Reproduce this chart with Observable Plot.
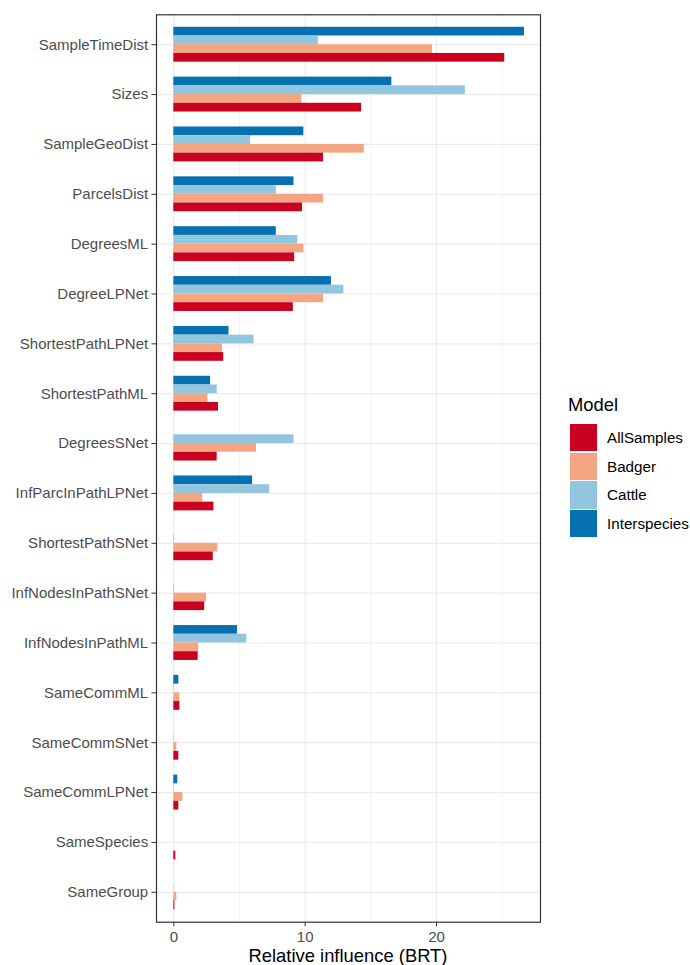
<!DOCTYPE html>
<html>
<head>
<meta charset="utf-8">
<script src="https://cdn.jsdelivr.net/npm/d3@7"></script>
<script src="https://cdn.jsdelivr.net/npm/@observablehq/plot@0.6"></script>
<style>
  html, body { margin: 0; padding: 0; background: #fff; }
  #chart { position: relative; width: 690px; height: 965px; font-family: "Liberation Sans", Arial, Helvetica, sans-serif; }
  #chart svg { position: absolute; left: 0; top: 0; color: #333; }
  #chart svg text { fill: #4D4D4D; }
  .xtitle { position: absolute; top: 945px; left: 156px; width: 384px; text-align: center; font-size: 18.4px; color: #000; line-height: 22px; }
  .legend { position: absolute; left: 568px; top: 394px; color: #000; }
  .legend .title { font-size: 18.4px; line-height: 22px; margin-bottom: 7px; }
  .legend .row { display: flex; align-items: center; height: 28.8px; }
  .legend .key { width: 27px; height: 27.3px; margin-left: 2px; }
  .legend .lab { font-size: 15.2px; margin-left: 10px; }
</style>
</head>
<body>
<div id="chart"></div>
<script>
// Predictors, top to bottom
const features = [
  "SampleTimeDist", "Sizes", "SampleGeoDist", "ParcelsDist", "DegreesML",
  "DegreeLPNet", "ShortestPathLPNet", "ShortestPathML", "DegreesSNet",
  "InfParcInPathLPNet", "ShortestPathSNet", "InfNodesInPathSNet",
  "InfNodesInPathML", "SameCommML", "SameCommSNet", "SameCommLPNet",
  "SameSpecies", "SameGroup"
];

// Relative influence per model (BRT)
const allSamples   = [25.2, 14.3, 11.4, 9.8, 9.2, 9.1, 3.8, 3.4, 3.3, 3.05, 3.0, 2.35, 1.85, 0.46, 0.38, 0.38, 0.15, 0.08];
const badger       = [19.7, 9.75, 14.5, 11.4, 9.9, 11.4, 3.7, 2.6, 6.3, 2.2, 3.35, 2.5, 1.9, 0.46, 0.23, 0.69, 0, 0.23];
const cattle       = [11.0, 22.2, 5.85, 7.8, 9.45, 12.95, 6.1, 3.3, 9.15, 7.3, 0.05, 0.05, 5.55, 0.03, 0.03, 0.03, 0, 0.03];
const interspecies = [26.7, 16.6, 9.9, 9.15, 7.8, 12.0, 4.2, 2.8, 0, 6.0, 0, 0, 4.85, 0.38, 0, 0.3, 0, 0];

const models = ["AllSamples", "Badger", "Cattle", "Interspecies"];
const modelValues = [allSamples, badger, cattle, interspecies];
const modelColors = ["#CA0020", "#F4A582", "#92C5DE", "#0571B0"];

const xTicks = [0, 10, 20];
const xMinorTicks = [5, 15, 25];

// long-form table
const rows = models.flatMap((m, j) =>
  features.map((f, i) => ({feature: f, model: m, value: modelValues[j][i]}))
);

const width = 690, height = 965;
const margin = {top: 14.3, right: 150, bottom: 43.3, left: 156};
const padOuter = 0.1;
const step = (height - margin.top - margin.bottom) / (features.length + 2 * padOuter);
const dodge = 0.7;                 // share of each row taken by the group
const barH = step * dodge / models.length;

// one barX per model, dodged inside the row band (Interspecies on top)
const stackOrder = ["Interspecies", "Cattle", "Badger", "AllSamples"];
const barMarks = stackOrder.map((m, k) => {
  const top = step * (1 - dodge) / 2 + k * barH;
  return Plot.barX(rows.filter(d => d.model === m), {
    y: "feature", x1: 0, x2: "value", fill: "model",
    insetTop: top, insetBottom: step - top - barH
  });
});

const chart = Plot.plot({
  width, height,
  marginTop: margin.top, marginRight: margin.right,
  marginBottom: margin.bottom, marginLeft: margin.left,
  style: {fontFamily: '"Liberation Sans", Arial, Helvetica, sans-serif', fontSize: "15px", background: "transparent"},
  x: {domain: [-1.32, 27.92], ticks: xTicks, tickSize: 4.6, tickPadding: 4.5, label: null},
  y: {domain: features, paddingInner: 0, paddingOuter: padOuter, align: 0.5, round: false, tickSize: 4.6, tickPadding: 3.7, label: null},
  color: {domain: models, range: modelColors},
  marks: [
    Plot.ruleX(xMinorTicks, {stroke: "#EBEBEB", strokeWidth: 0.6}),
    Plot.ruleX(xTicks, {stroke: "#EBEBEB", strokeWidth: 1.2}),
    Plot.ruleY(features, {y: d => d, stroke: "#EBEBEB", strokeWidth: 1.2}),
    ...barMarks,
    Plot.frame({stroke: "#333", strokeWidth: 1.2})
  ]
});

const root = document.getElementById("chart");
root.appendChild(chart);

const xt = document.createElement("div");
xt.className = "xtitle";
xt.textContent = "Relative influence (BRT)";
root.appendChild(xt);

// legend built from the model list
const lg = document.createElement("div");
lg.className = "legend";
const title = document.createElement("div");
title.className = "title";
title.textContent = "Model";
lg.appendChild(title);
models.forEach((m, i) => {
  const row = document.createElement("div");
  row.className = "row";
  const key = document.createElement("div");
  key.className = "key";
  key.style.background = modelColors[i];
  const lab = document.createElement("div");
  lab.className = "lab";
  lab.textContent = m;
  row.appendChild(key);
  row.appendChild(lab);
  lg.appendChild(row);
});
root.appendChild(lg);
</script>
</body>
</html>
